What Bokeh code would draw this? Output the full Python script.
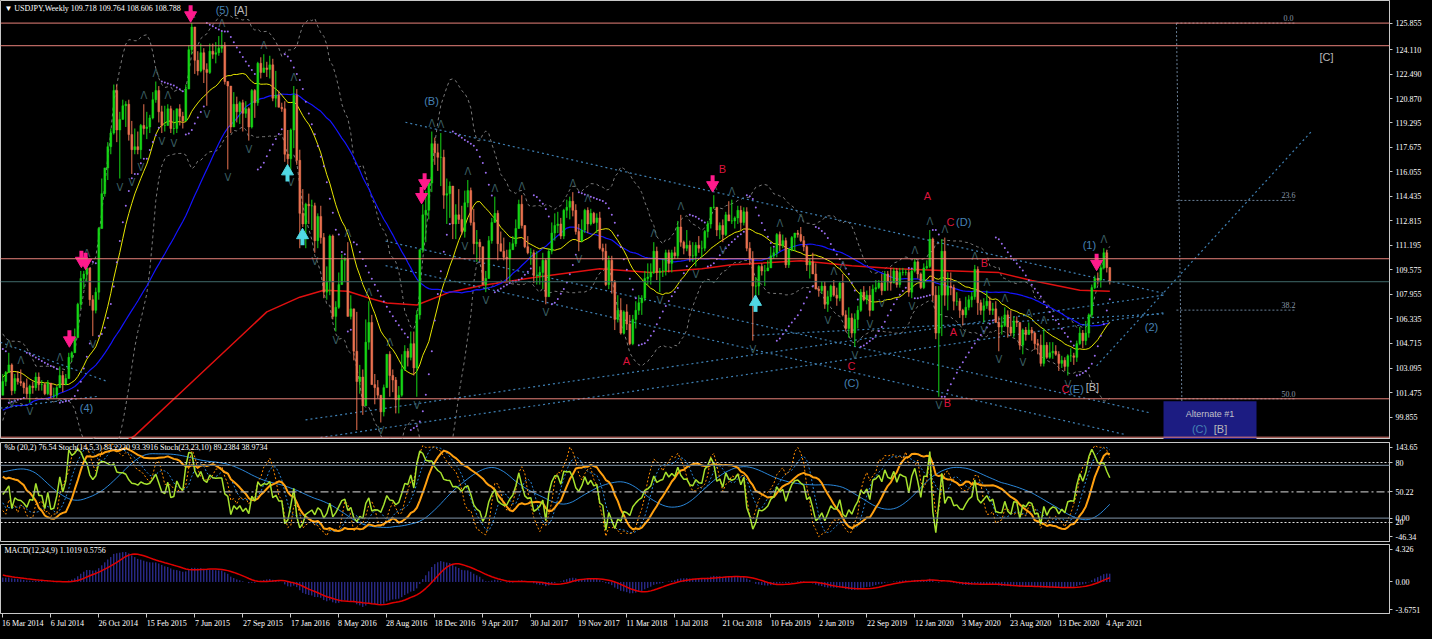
import numpy as np
import pandas as pd
from bokeh.plotting import figure
from bokeh.layouts import column
from bokeh.models import (Range1d, FixedTicker, Label, ColumnDataSource, Span, NumeralTickFormatter,
                          LinearAxis)
from bokeh.core.properties import value
from bokeh.embed import file_html
from bokeh.resources import INLINE

# ---------------- DATA ----------------
# 56 weeks of history before the first visible bar (needed by the indicators)
pre_close = [93.4,93.6,96.0,95.2,94.5,94.2,97.6,98.4,99.6,98.0,
             99.0,101.6,103.2,101.0,100.5,97.5,94.1,98.8,99.2,101.2,
             99.2,100.4,98.3,98.9,96.3,97.6,98.7,98.1,99.7,99.4,
             99.3,98.3,97.5,98.5,97.7,97.4,98.7,99.0,100.2,101.0,
             102.4,102.9,103.2,104.0,104.4,104.8,104.1,104.3,102.3,102.0,
             102.3,101.8,102.5,101.8,103.3,101.3]
pre_high = [94.0,94.8,96.1,96.7,95.7,95.0,97.8,99.9,99.9,99.9,
            99.4,101.9,103.3,103.7,102.5,100.9,97.6,98.9,99.2,101.5,
            101.5,101.0,100.9,99.4,99.5,98.5,99.2,98.8,100.2,100.6,
            99.8,99.4,98.4,98.6,99.0,98.3,98.9,99.2,100.4,101.4,
            102.6,103.4,103.4,104.6,104.8,105.4,105.4,104.9,104.8,103.4,
            102.6,102.8,102.8,102.7,103.8,103.4]
pre_low = [92.3,90.9,91.8,94.9,94.2,92.6,92.6,96.6,96.8,97.2,
           97.1,98.8,101.3,100.6,100.3,94.9,93.8,93.6,96.9,98.7,
           98.3,98.6,98.1,97.6,95.8,95.8,96.8,96.8,98.0,98.9,
           97.8,98.3,97.2,96.6,97.6,96.9,96.9,97.6,98.8,99.4,
           100.8,101.6,102.0,102.6,104.0,103.8,103.0,102.9,102.1,101.8,
           100.8,101.3,101.4,101.7,101.2,101.2]

# weekly bars, 16 Mar 2014 .. 11 Apr 2021 (open = previous close)
close = [102.2,102.8,103.3,101.6,102.4,102.2,102.1,101.8,101.4,101.9,
         101.8,102.5,102.0,102.0,101.4,102.1,101.3,101.3,101.8,102.6,
         102.0,102.4,103.8,104.1,105.1,107.3,109.0,109.3,109.7,107.6,
         106.9,108.1,112.3,114.6,116.3,117.7,118.6,121.4,118.8,119.5,
         120.4,120.5,118.5,117.5,117.7,117.5,119.1,118.9,119.0,119.6,
         120.8,121.4,120.0,119.1,119.1,120.2,118.9,118.9,120.2,119.7,
         119.4,121.5,124.1,125.6,123.4,122.7,123.9,122.8,122.6,124.0,
         123.8,123.9,124.2,124.4,122.0,121.7,119.0,120.5,120.0,120.6,
         119.9,120.2,119.0,121.4,120.6,123.2,122.6,122.9,122.8,123.1,
         120.9,121.1,120.3,120.2,117.2,116.9,118.8,121.1,116.8,113.3,
         112.6,113.9,113.8,113.8,111.5,113.1,111.7,108.1,108.8,111.8,
         106.5,107.1,108.6,110.2,110.3,106.5,107.0,104.2,102.2,102.5,
         100.6,104.8,106.1,102.0,101.8,101.3,100.2,101.8,104.0,102.6,
         102.3,101.0,101.3,103.0,104.2,103.8,104.7,103.1,106.6,110.9,
         113.2,113.5,115.3,117.9,117.3,117.0,117.0,114.5,114.6,115.1,
         112.6,113.2,112.9,112.1,114.0,114.8,112.7,111.3,111.4,111.1,
         108.6,109.0,111.5,112.7,113.3,111.3,110.8,110.4,110.3,110.9,
         111.3,112.3,113.9,112.5,111.1,110.7,110.7,109.2,109.2,109.4,
         110.2,107.8,110.8,112.0,112.5,112.6,111.8,113.5,113.7,114.1,
         113.5,112.1,111.5,112.2,113.5,112.6,113.3,112.7,113.0,111.0,
         110.8,108.6,110.2,108.8,106.3,106.9,105.4,106.8,106.0,104.7,
         106.3,106.9,107.4,107.7,109.0,109.1,109.4,110.8,109.4,109.5,
         109.5,110.7,110.0,110.7,110.5,112.4,111.4,111.0,111.2,110.5,
         110.5,111.2,111.0,111.0,112.1,112.6,113.7,113.7,112.2,112.5,
         111.9,113.2,112.8,112.8,113.0,113.5,112.7,113.4,111.0,110.3,
         108.5,108.5,109.8,109.5,109.5,109.7,110.5,110.7,111.9,111.2,
         111.5,109.9,110.9,111.7,112.0,111.9,111.5,111.1,109.9,110.1,
         109.3,108.3,108.2,108.5,107.3,107.8,108.5,107.9,107.7,108.7,
         106.6,105.7,106.4,105.4,106.3,106.9,108.1,107.6,107.9,106.9,
         108.3,108.4,108.7,108.2,109.3,108.8,108.7,109.5,108.6,109.4,
         109.4,109.4,108.1,109.5,110.1,109.3,108.4,109.7,109.8,111.6,
         107.9,105.4,107.9,110.8,107.9,108.5,108.4,107.5,107.5,106.9,
         106.6,107.1,107.6,107.8,109.6,107.4,106.9,107.2,107.5,106.9,
         107.0,106.1,105.8,105.9,106.6,105.8,105.4,106.2,106.1,104.6,
         105.6,105.3,105.6,105.4,104.7,104.6,103.4,104.6,103.8,104.1,
         104.2,104.0,103.4,103.6,103.2,103.9,103.9,103.8,104.7,105.4,
         104.9,105.4,106.6,108.4,109.0,108.9,109.7,110.7,109.718,108.788]
high = [102.7,102.9,104.1,103.4,102.7,102.9,103.0,102.2,102.4,102.0,
        102.2,102.8,102.8,102.3,102.1,102.3,102.1,101.8,101.9,103.2,
        102.9,102.7,104.1,104.2,105.7,107.4,109.5,109.5,110.1,109.2,
        107.9,108.4,112.4,115.6,116.3,118.0,118.9,121.8,121.8,120.0,
        120.8,120.7,120.8,119.4,118.9,118.7,119.2,120.5,120.0,119.8,
        121.3,122.0,121.7,120.4,120.4,120.5,120.4,120.1,120.0,120.5,
        120.0,121.8,124.4,125.855,125.5,124.0,124.5,124.2,123.2,124.5,
        124.5,124.6,125.0,125.3,124.6,122.0,121.7,121.3,121.0,120.7,
        120.8,120.7,120.3,121.5,121.5,123.3,123.6,123.8,123.3,123.7,
        123.5,122.7,121.4,120.6,120.7,118.8,118.9,121.7,121.5,117.5,
        114.9,114.0,114.6,114.2,114.0,113.3,113.8,112.0,109.8,111.9,
        111.9,107.5,109.4,110.6,110.4,111.4,107.9,107.0,106.8,103.3,
        103.0,106.3,107.5,106.6,102.7,102.3,101.3,102.0,104.0,104.2,
        103.0,102.5,101.9,104.0,104.6,104.4,105.5,105.5,106.9,110.9,
        113.9,114.8,115.4,118.7,118.3,117.9,118.6,117.5,115.6,115.4,
        115.0,113.9,114.9,113.8,114.8,115.5,115.0,113.6,112.2,111.6,
        111.0,109.5,111.8,113.0,114.4,113.5,112.1,111.7,110.9,111.4,
        111.8,112.9,114.2,114.5,112.5,111.8,111.0,110.9,110.8,109.8,
        110.7,110.3,111.0,112.7,113.3,113.4,113.0,113.6,114.2,114.4,
        114.7,113.9,112.6,112.9,113.6,113.7,113.6,113.4,113.3,113.4,
        111.3,111.3,110.5,110.5,108.9,107.9,107.7,106.9,107.3,106.6,
        106.6,107.5,107.9,107.9,109.5,110.0,110.0,111.4,111.1,109.7,
        110.3,110.9,110.9,110.9,111.1,112.8,113.2,111.5,112.2,111.5,
        111.4,111.4,111.8,111.5,112.2,112.8,113.7,114.5,113.3,112.7,
        112.9,113.4,114.1,114.2,113.1,113.8,113.8,113.7,113.7,111.4,
        110.8,109.1,109.9,110.0,109.9,110.2,111.1,111.0,112.0,112.1,
        111.9,111.7,111.0,111.8,112.0,112.2,112.4,111.8,111.2,110.3,
        110.7,110.0,108.5,108.8,108.8,108.2,108.6,108.9,108.4,108.8,
        109.3,106.9,107.1,106.7,106.7,107.2,108.3,108.5,108.2,108.5,
        108.6,108.9,108.9,109.3,109.5,109.5,109.7,109.7,109.7,109.7,
        109.7,109.6,109.6,109.6,110.3,110.2,109.4,110.0,110.2,112.2,
        111.7,108.5,108.5,111.6,111.7,109.4,109.4,108.6,108.1,107.7,
        107.0,107.8,107.9,108.1,109.9,109.8,107.6,107.7,108.2,107.8,
        107.4,107.5,106.5,106.5,107.1,106.9,106.9,106.5,106.5,106.1,
        105.7,105.8,106.1,105.8,105.5,105.0,105.3,105.7,104.8,104.8,
        104.8,104.6,104.2,103.9,103.8,104.0,104.4,104.1,104.9,105.8,
        105.6,106.2,106.7,108.6,109.2,109.4,110.0,111.0,110.9,109.764]
low = [101.7,101.9,102.8,101.3,101.4,102.0,101.9,101.4,101.1,100.8,
       101.4,101.6,101.6,101.6,101.3,101.3,101.1,101.1,101.1,101.8,
       101.5,102.0,102.4,103.5,104.1,105.1,107.0,108.3,108.8,107.2,
       105.2,106.7,107.6,112.3,114.4,115.5,117.2,118.5,118.0,115.6,
       119.5,119.0,118.1,115.9,117.2,117.2,116.9,118.5,118.2,118.6,
       119.5,120.6,119.3,118.6,118.7,119.2,118.6,118.5,118.6,119.1,
       118.9,119.7,121.5,123.8,122.5,122.4,122.6,121.9,120.4,122.5,
       123.5,123.2,123.7,123.9,121.8,116.2,118.6,119.2,119.3,119.2,
       118.7,119.6,118.1,118.9,119.6,120.4,122.2,122.6,122.3,122.2,
       120.7,120.3,120.3,120.0,116.7,116.5,115.9,117.6,116.5,111.0,
       112.4,111.0,112.6,112.2,110.7,111.0,111.3,107.7,107.6,107.9,
       106.3,105.5,107.0,108.6,108.8,106.5,106.3,103.6,99.0,101.4,
       100.0,100.6,104.3,102.0,100.7,101.1,99.5,99.9,101.8,101.2,
       101.5,100.1,100.1,101.2,102.9,103.2,103.6,102.6,101.2,106.3,
       110.7,111.4,112.9,114.7,116.5,116.1,115.1,113.6,112.6,113.0,
       111.6,111.6,112.6,111.9,111.7,113.7,112.5,110.6,110.1,110.1,
       108.7,108.1,109.5,111.3,112.7,110.2,110.8,110.2,108.8,108.8,
       110.9,111.1,112.3,112.3,111.0,110.6,109.9,108.7,108.6,108.6,
       108.3,107.3,107.8,110.6,111.5,112.0,111.6,111.6,113.0,112.9,
       113.1,111.9,110.8,111.4,112.0,112.0,112.5,112.6,112.0,110.9,
       110.2,108.5,108.3,108.0,105.6,106.1,105.3,105.3,105.6,104.6,
       104.6,105.7,106.6,106.6,107.5,108.6,108.6,109.3,108.9,108.1,
       109.1,109.2,109.4,109.4,110.3,110.3,111.1,110.6,110.8,110.1,
       110.1,109.8,110.7,110.4,110.8,111.7,112.3,113.6,111.8,111.6,
       111.4,111.8,112.8,112.6,112.3,112.6,112.2,112.5,110.8,109.9,
       104.9,107.8,107.9,109.2,108.5,109.5,110.0,110.3,110.4,110.8,
       111.0,109.7,109.7,110.8,110.8,111.7,111.4,110.8,109.5,109.0,
       109.3,108.3,107.8,108.0,107.0,106.8,107.5,107.8,107.2,107.5,
       106.5,105.5,105.1,105.1,104.5,105.7,106.8,107.5,107.3,106.5,
       106.9,108.1,108.3,107.9,108.2,108.2,108.2,108.8,108.4,108.4,
       109.2,109.2,107.8,107.7,109.4,109.0,108.3,108.3,109.6,109.7,
       107.5,105.0,101.2,105.2,107.2,106.9,107.9,106.9,107.2,106.4,
       105.9,106.4,106.9,107.1,107.6,106.6,106.6,106.1,107.0,106.6,
       106.6,106.1,104.2,105.3,105.8,105.1,105.2,105.1,105.8,104.3,
       104.0,104.9,105.3,104.9,104.3,104.0,103.2,103.2,103.7,103.7,
       103.7,103.9,102.9,103.1,102.9,102.6,103.5,103.3,103.5,104.6,
       104.4,104.6,105.1,106.4,108.3,108.6,108.4,109.6,109.4,108.606]

# x-axis tick labels, one every 16 weekly bars
date_labels = ["16 Mar 2014","6 Jul 2014","26 Oct 2014","15 Feb 2015","7 Jun 2015","27 Sep 2015",
               "17 Jan 2016","8 May 2016","28 Aug 2016","18 Dec 2016","9 Apr 2017","30 Jul 2017",
               "19 Nov 2017","11 Mar 2018","1 Jul 2018","21 Oct 2018","10 Feb 2019","2 Jun 2019",
               "22 Sep 2019","12 Jan 2020","3 May 2020","23 Aug 2020","13 Dec 2020","4 Apr 2021"]
date_step = 16

# price-axis tick labels
price_ticks = [125.855,124.110,122.490,120.870,119.295,117.675,116.055,114.435,112.815,
               111.195,109.575,107.955,106.335,104.715,103.095,101.475,99.855]

# 200-week MA (bar index, price)
ma200_idx = [38,44,66,88,99,107,115,122,128,138,149,160,177,199,216,233,243,266,283,298,315,332,343,359,369]
ma200_val = [97.9,98.63,102.72,106.80,107.77,108.23,108.16,107.71,107.38,107.25,108.10,108.55,109.07,
             109.65,109.39,109.65,109.91,110.17,109.85,109.65,109.52,109.39,108.87,108.22,108.16]

# horizontal levels
levels = [125.855, 124.363, 110.305, 101.063, 98.529]

# trend lines (bar index / price endpoints)
tl_x0 = [134.2,127.6,127.6,100.9,105.9,364.6,-0.8,-0.8,249.9]
tl_y0 = [119.31,111.47,109.85,99.67,98.51,103.24,104.79,100.45,105.25]
tl_x1 = [386.9,382.6,374.2,386.9,386.9,436.6,34.9,31.9,386.9]
tl_y1 = [108.03,100.13,98.70,107.90,106.74,118.79,102.20,101.23,106.67]

# Fibonacci retracement
fib_hi, fib_lo = 125.855, 76.271
fib_levels = [0.0, 23.6, 38.2, 50.0]
fib_x0, fib_x1, fib_x_end = 391.2, 430.9, 393.2

# Elliott wave labels
wave_text = ["(5)","[A]","(4)","(B)","A","B","A","C","(D)","B","A","C","(C)","B","C","(E)","[B]","(1)","(2)","[C]"]
wave_x = [73.2,79.3,27.9,142.9,207.9,239.9,308.2,315.9,320.3,327.2,316.9,282.9,282.9,314.9,354.2,357.9,363.2,362.2,382.9,441.2]
wave_y = [126.70,126.70,100.45,120.74,103.56,116.20,114.45,112.70,112.70,110.04,105.44,103.24,102.13,100.77,101.68,101.74,101.87,111.21,105.83,123.65]

# signal arrows
down_arrow_i = [22.2,26.2,27.6,62.6,140.6,139.6,236.6,364.6]
down_arrow_p = [105.12,110.37,110.24,126.57,115.49,114.58,115.36,110.17]
up_arrow_i = [94.9,99.9,250.9]
up_arrow_p = [115.87,111.66,107.26]

# alternate count box
alt_x0, alt_x1, alt_top = 386.9, 417.9, 100.90

title_text = "\u25bc USDJPY,Weekly  109.718 109.764 108.606 108.788"
osc_title = "%b (20,2) 76.54  Stoch(14,5,3) 84.2220 93.3916  Stoch(23,23,10) 89.2384 38.9734"
macd_title = "MACD(12,24,9) 1.1019 0.5756"
osc_ticks = {134.2: "143.65", 105.65: "80", 50.22: "50.22", 0.0: "0.00", -8.34: "20", -35.0: "-46.34"}
macd_ticks = {4.326: "4.326", 0.0: "0.00", -3.6751: "-3.6751"}

# ---------------- INDICATORS ----------------
npre = len(pre_close)
C = np.array(pre_close + close, float)
H = np.array(pre_high + high, float)
L = np.array(pre_low + low, float)
O = np.concatenate([[C[0]], C[:-1]])
H = np.maximum(H, np.maximum(O, C))
L = np.minimum(L, np.minimum(O, C))
N = len(C)

def sma(a, n):
    return pd.Series(a).rolling(n).mean().to_numpy()

def ema(a, n):
    k = 2.0 / (n + 1)
    out = np.empty(len(a)); out[0] = a[0]
    for i in range(1, len(a)):
        out[i] = out[i-1] + k * (a[i] - out[i-1])
    return out

def stoch(k, d, s):
    hh = pd.Series(H).rolling(k).max().to_numpy()
    ll = pd.Series(L).rolling(k).min().to_numpy()
    num = pd.Series(C - ll).rolling(s).sum().to_numpy()
    den = pd.Series(hh - ll).rolling(s).sum().to_numpy()
    main = 100 * num / den
    return main, sma(main, d)

def psar(step=0.02, mx=0.2):
    sar = np.empty(N); up = True; af = step; ep = H[0]; sar[0] = L[0]
    for i in range(1, N):
        s = sar[i-1] + af * (ep - sar[i-1])
        if up:
            s = min(s, L[i-1], L[max(i-2, 0)])
            if L[i] < s:
                up = False; s = ep; ep = L[i]; af = step
            elif H[i] > ep:
                ep = H[i]; af = min(af + step, mx)
        else:
            s = max(s, H[i-1], H[max(i-2, 0)])
            if H[i] > s:
                up = True; s = ep; ep = H[i]; af = step
            elif L[i] < ep:
                ep = L[i]; af = min(af + step, mx)
        sar[i] = s
    return sar

ma_fast = sma(C, 20)
ma_mid = sma(C, 50)
sd = pd.Series(C).rolling(20).std(ddof=0).to_numpy()
bb_up, bb_dn = ma_fast + 2 * sd, ma_fast - 2 * sd
pctb = (C - bb_dn) / (bb_up - bb_dn) * 100
st1_m, st1_s = stoch(14, 5, 3)
st2_m, st2_s = stoch(23, 23, 10)
macd_m = ema(C, 12) - ema(C, 24)
macd_s = sma(macd_m, 9)
sar = psar()

sl = slice(npre, None)
idx = np.arange(N - npre)
o, h, l, c = O[sl], H[sl], L[sl], C[sl]

# ---------------- FIGURES ----------------
FN = "Liberation Sans Narrow"
FW = "Liberation Sans"
FS = "8px"
GRID = "#c8c8c8"
FRAME_W = 1389
X0 = -0.77
X1 = X0 + FRAME_W / 3.0
xr = Range1d(X0, X1)

MH = 439
Y0, Y1 = 98.377, 127.346
ppx = (Y1 - Y0) / MH

up_fr, dn_fr = [], []
for i in range(npre, N - 2):
    j = i - npre
    if H[i] > max(H[i-1], H[i-2], H[i+1], H[i+2]) and H[i] + 14 * ppx < Y1:
        up_fr.append(j)
    if L[i] < min(L[i-1], L[i-2], L[i+1], L[i+2]) and L[i] - 14 * ppx > Y0:
        dn_fr.append(j)

def mkfig(fh, ylo, yhi, top, bottom, xaxis=False):
    p = figure(frame_width=FRAME_W, frame_height=fh, x_range=xr, y_range=Range1d(ylo, yhi),
               output_backend="svg", toolbar_location=None, y_axis_location="right",
               x_axis_location="below" if xaxis else None,
               min_border_left=0, min_border_right=35, min_border_top=top, min_border_bottom=bottom,
               background_fill_color="black", border_fill_color="black",
               outline_line_color=GRID, outline_line_width=1)
    p.grid.visible = False
    ax = p.yaxis[0]
    ax.axis_line_color = GRID
    ax.major_tick_line_color = GRID
    ax.major_tick_out = 3
    ax.major_tick_in = 0
    ax.minor_tick_line_color = None
    ax.major_label_text_color = "white"
    ax.major_label_text_font = FN
    ax.major_label_text_font_size = FS
    ax.major_label_standoff = 3
    return p

# ---- main price panel ----
p1 = mkfig(MH, Y0, Y1, 0, 0)
p1.yaxis.ticker = FixedTicker(ticks=price_ticks)
p1.yaxis.formatter = NumeralTickFormatter(format="0.000")

xs = idx
p1.line(xs, bb_up[sl], line_color="#7a7a7a", line_dash="3 3", line_width=1)
p1.line(xs, bb_dn[sl], line_color="#7a7a7a", line_dash="3 3", line_width=1)
p1.line(ma200_idx, ma200_val, line_color="#e01010", line_width=1.5)
p1.line(xs, ma_mid[sl], line_color="#1414ff", line_width=1.2)
p1.line(xs, ma_fast[sl], line_color="#e8e800", line_width=1)

for lv in levels:
    p1.add_layout(Span(location=lv, dimension="width", line_color="#e8827a", line_width=1))
p1.add_layout(Span(location=close[-1], dimension="width", line_color="#3f6a6a", line_width=1))

p1.segment(tl_x0, tl_y0, tl_x1, tl_y1, line_color="#3f80b4", line_dash="2 3", line_width=1.2)

fib_p = [fib_hi - f / 100.0 * (fib_hi - fib_lo) for f in fib_levels]
p1.segment([fib_x0] * len(fib_p), fib_p, [fib_x1] * len(fib_p), fib_p,
           line_color="#6a8098", line_dash="2 2", line_width=1)
p1.segment([fib_x0], [fib_hi], [fib_x_end], [Y0], line_color="#6a8098", line_dash="2 2", line_width=1)
p1.text([fib_x1 - 2.3] * len(fib_p), [v + 5 * ppx for v in fib_p], text=["%.1f" % f for f in fib_levels],
        text_color="#8a98aa", text_font=value(FN), text_font_size=FS,
        text_align="center", text_baseline="middle")

p1.quad(left=[alt_x0], right=[alt_x1], top=[alt_top], bottom=[Y0], fill_color="#1c1c82",
        line_color=None)
p1.text([(alt_x0 + alt_x1) / 2], [alt_top - 13 * ppx], text=["Alternate #1"], text_color="#c0c0c8",
        text_font=value(FW), text_font_size="9px", text_align="center", text_baseline="middle")
p1.text([(alt_x0 + alt_x1) / 2 - 3.5], [alt_top - 28 * ppx], text=["(C)"], text_color="#4682b4",
        text_font=value(FW), text_font_size="11px", text_align="center", text_baseline="middle")
p1.text([(alt_x0 + alt_x1) / 2 + 3.5], [alt_top - 28 * ppx], text=["[B]"], text_color="#b8b8b8",
        text_font=value(FW), text_font_size="11px", text_align="center", text_baseline="middle")

# candles
bull = c >= o
col = np.where(bull, "#16d616", "#ea7250")
csrc = ColumnDataSource(dict(x=xs, o=o, h=h, l=l, c=c, col=col,
                             top=np.maximum(o, c), bot=np.minimum(o, c)))
p1.segment("x", "l", "x", "h", source=csrc, line_color="col", line_width=1)
p1.vbar(x="x", width=0.62, top="top", bottom="bot", source=csrc, fill_color="col", line_color="col",
        line_width=0.5)

# parabolic SAR
p1.scatter(xs, sar[sl], size=2, marker="circle", fill_color="#9a6cf0", line_color=None)

# fractals
p1.text(up_fr, [h[i] + 3 * ppx for i in up_fr], text=["\u039b"] * len(up_fr), text_color="#3a5e62",
        text_font=value("DejaVu Sans"), text_font_size="10px", text_align="center", text_baseline="bottom")
p1.text(dn_fr, [l[i] - 3 * ppx for i in dn_fr], text=["V"] * len(dn_fr), text_color="#3a5e62",
        text_font=value("DejaVu Sans"), text_font_size="10px", text_align="center", text_baseline="top")

# arrows
p1.segment(down_arrow_i, [v + 7 * ppx for v in down_arrow_p], down_arrow_i, [v - 1 * ppx for v in down_arrow_p],
           line_color="#ff1a8c", line_width=4)
p1.scatter(down_arrow_i, [v - 3 * ppx for v in down_arrow_p], marker="inverted_triangle", size=12,
           fill_color="#ff1a8c", line_color="#ff1a8c")
p1.segment(up_arrow_i, [v - 7 * ppx for v in up_arrow_p], up_arrow_i, [v + 1 * ppx for v in up_arrow_p],
           line_color="#50d8e4", line_width=4)
p1.scatter(up_arrow_i, [v + 3 * ppx for v in up_arrow_p], marker="triangle", size=12,
           fill_color="#50d8e4", line_color="#50d8e4")

# wave labels
wcol = ["#4682b4" if t.startswith("(") else ("#b8b8b8" if t.startswith("[") else "#dc143c") for t in wave_text]
p1.text(wave_x, wave_y, text=wave_text, text_color=wcol, text_font=value(FW), text_font_size="11px",
        text_align="center", text_baseline="middle")

p1.add_layout(Label(x=X0 + 1.3, y=Y1 - 8 * ppx, text=title_text, text_color="white", text_font=FN,
                    text_font_size=FS, text_baseline="middle"))

def axis_box(p, y, text, bg, fg, lo, upp):
    yy = max(y, lo + 6 * upp)
    p.add_layout(Label(x=X1, y=yy, x_offset=2, text=text, text_color=fg, background_fill_color=bg,
                       text_font=FN, text_font_size=FS, text_baseline="middle", text_align="left"))

for lv in levels:
    axis_box(p1, lv, "%.3f" % lv, "#f28a82", "#300000", Y0, ppx)
axis_box(p1, close[-1], "%.3f" % close[-1], "white", "black", Y0, ppx)

# ---- oscillator panel ----
p2 = mkfig(100, -46.34, 143.65, 3, 0)
p2.extra_y_ranges = {"st": Range1d(0, 100)}
p2.yaxis.ticker = FixedTicker(ticks=list(osc_ticks.keys()))
p2.yaxis.major_label_overrides = osc_ticks
for lv, dash, colr in [(100, "solid", "#687888"), (0, "solid", "#687888"), (50, "8 3 2 3", "#b0b0b0")]:
    p2.add_layout(Span(location=lv, dimension="width", line_color=colr, line_dash=dash, line_width=1.2))
for lv in [80, 20]:
    p2.add_layout(Span(location=lv, dimension="width", line_color="#e0e0e0", line_dash="2 2",
                       line_width=1, y_range_name="st"))
p2.line(xs, st2_s[sl], line_color="#2a86d8", line_width=1, y_range_name="st")
p2.line(xs, st1_s[sl], line_color="#2a86d8", line_dash="2 2", line_width=1, y_range_name="st")
p2.line(xs, st1_m[sl], line_color="#ff8c00", line_dash="2 2", line_width=1, y_range_name="st")
p2.line(xs, st2_m[sl], line_color="#ffa010", line_width=2, y_range_name="st")
p2.line(xs, pctb[sl], line_color="#a6e22e", line_width=1.5)
p2.add_layout(Label(x=X0 + 1.3, y=143.65 - 5 * 1.88, text=osc_title, text_color="white", text_font=FN,
                    text_font_size=FS, text_baseline="middle"))
axis_box(p2, 50.22, "50.22", "white", "black", -46.34, 1.88)

# ---- MACD panel ----
M_LO, M_HI, M_H = -4.2, 4.99, 69
mpx = (M_HI - M_LO) / M_H
p3 = mkfig(M_H, M_LO, M_HI, 2, 15, xaxis=True)
p3.yaxis.ticker = FixedTicker(ticks=list(macd_ticks.keys()))
p3.yaxis.major_label_overrides = macd_ticks
p3.segment(xs, np.zeros(len(xs)), xs, macd_m[sl], line_color="#3a3abd", line_width=1)
p3.line(xs, macd_s[sl], line_color="#e00000", line_width=1.5)
p3.add_layout(Label(x=X0 + 1.3, y=M_HI - 6 * mpx, text=macd_title, text_color="white",
                    text_font=FN, text_font_size=FS, text_baseline="middle"))

date_pos = [date_step * k for k in range(len(date_labels))]
xa = p3.xaxis[0]
xa.ticker = FixedTicker(ticks=date_pos)
xa.major_label_overrides = {pos: "" for pos in date_pos}
xa.axis_line_color = GRID
xa.major_tick_line_color = GRID
xa.major_tick_out = 4
xa.major_tick_in = 0
xa.minor_tick_line_color = None
xa.major_label_text_font_size = "1px"
xa.major_label_standoff = 0

# second axis carrying the date texts, each shifted so that it starts just right of its tick
CW = {" ": 278, "M": 833, "a": 556, "r": 333, "J": 500, "u": 556, "l": 222, "O": 778, "c": 500,
      "t": 278, "F": 611, "e": 556, "b": 556, "S": 667, "p": 556, "n": 556, "y": 500, "A": 667,
      "g": 556, "D": 722, "N": 722, "o": 556, "v": 500}
def text_w(s, size=8):
    return sum(CW.get(ch, 556) for ch in s) * 0.82 * size / 1000.0
lab_pos = [pos + (text_w(t) / 2 + 1.5) / 3.0 for pos, t in zip(date_pos, date_labels)]
xa2 = LinearAxis(ticker=FixedTicker(ticks=lab_pos),
                 major_label_overrides={p: t for p, t in zip(lab_pos, date_labels)})
xa2.axis_line_color = None
xa2.major_tick_line_color = None
xa2.major_tick_out = 0
xa2.major_tick_in = 0
xa2.minor_tick_line_color = None
xa2.major_label_text_color = "white"
xa2.major_label_text_font = FN
xa2.major_label_text_font_size = FS
xa2.major_label_standoff = 1
p3.add_layout(xa2, "below")

layout = column(p1, p2, p3, spacing=0, background="black")
html = file_html(layout, INLINE)
html = html.replace("<body>", "<body style=\"background:black\">")
open("out.html", "w").write(html)
